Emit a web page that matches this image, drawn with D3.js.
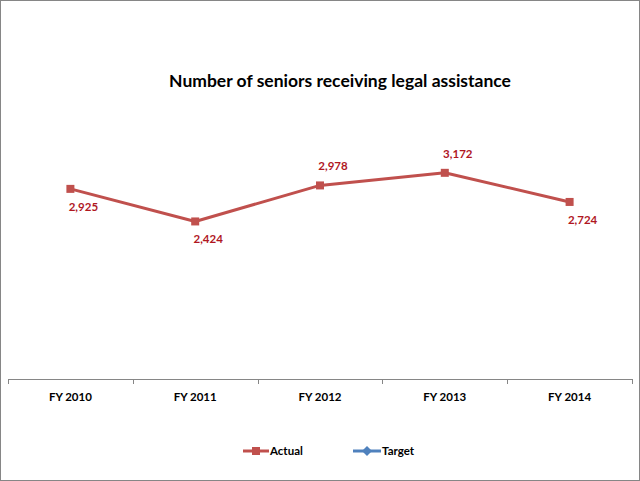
<!DOCTYPE html>
<html><head><meta charset="utf-8">
<script src="https://cdn.jsdelivr.net/npm/d3@7"></script>
<style>body{margin:0;background:#fff}svg{display:block}text{font-family:Lato,"Open Sans",sans-serif}</style>
</head><body>
<svg id="c" width="640" height="481"></svg>
<script>
const categories = ["FY 2010","FY 2011","FY 2012","FY 2013","FY 2014"];
const actual = [2925, 2424, 2978, 3172, 2724];
const target = [];
const labelPos = ["below","below","above","above","below"];
const seriesNames = ["Actual","Target"];

const svg = d3.select("#c");
svg.append("rect").attr("x",0.5).attr("y",0.5).attr("width",639).attr("height",480)
  .attr("fill","#fff").attr("stroke","#868686");

const x = d3.scaleBand().domain(categories).range([8,632]);
const y = d3.scaleLinear().domain([0,5000]).range([379,54]);

svg.append("text").attr("x",340).attr("y",87).attr("text-anchor","middle")
  .attr("font-size",17.5).attr("font-weight","bold").attr("fill","#000")
  .text("Number of seniors receiving legal assistance");

const ax = svg.append("g").attr("transform","translate(0,379)")
  .call(d3.axisBottom(x).tickSize(0).tickPadding(0));
ax.select(".domain").attr("stroke","#868686").attr("d","M8.5,0.5H632.5");
ax.selectAll(".tick text").attr("font-size",11.5).attr("font-weight","bold").attr("fill","#000")
  .attr("y",22).attr("dy",0).attr("font-family","Lato, sans-serif");
const bounds = categories.map(c=>x(c)).concat([x.range()[1]]);
ax.selectAll("line.b").data(bounds).enter().append("line")
  .attr("x1",d=>Math.round(d)+0.5).attr("x2",d=>Math.round(d)+0.5)
  .attr("y1",0).attr("y2",5).attr("stroke","#868686");

const cx = c => x(c) + x.bandwidth()/2;
const red = "#C0504D";
const line = d3.line().x((d,i)=>cx(categories[i])).y(d=>y(d));
svg.append("path").datum(actual).attr("d",line).attr("fill","none")
  .attr("stroke",red).attr("stroke-width",3).attr("stroke-linejoin","round");
svg.selectAll("rect.m").data(actual).enter().append("rect")
  .attr("x",(d,i)=>cx(categories[i])-4).attr("y",d=>y(d)-4)
  .attr("width",8).attr("height",8).attr("fill",red);
svg.selectAll("text.l").data(actual).enter().append("text")
  .attr("x",(d,i)=>cx(categories[i])+13)
  .attr("y",(d,i)=>labelPos[i]==="below"? y(d)+22 : y(d)-15)
  .attr("text-anchor","middle").attr("font-size",11.5).attr("font-weight","bold")
  .attr("fill","#B0171F").text(d=>d3.format(",")(d));

// legend
const lg = svg.append("g");
lg.append("line").attr("x1",243).attr("x2",269).attr("y1",451).attr("y2",451).attr("stroke",red).attr("stroke-width",3);
lg.append("rect").attr("x",252).attr("y",447).attr("width",8).attr("height",8).attr("fill",red);
lg.append("text").attr("x",270).attr("y",455).attr("font-size",11.5).attr("font-weight","bold").text(seriesNames[0]);
const blue = "#4F81BD";
lg.append("line").attr("x1",353).attr("x2",381).attr("y1",451).attr("y2",451).attr("stroke",blue).attr("stroke-width",3);
lg.append("path").attr("d","M367,446L372,451L367,456L362,451Z").attr("fill",blue);
lg.append("text").attr("x",382).attr("y",455).attr("font-size",11.5).attr("font-weight","bold").text(seriesNames[1]);
</script>
</body></html>
